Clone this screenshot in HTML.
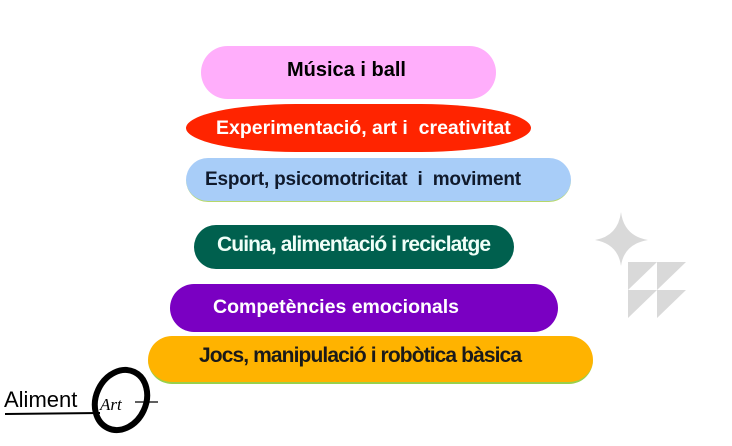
<!DOCTYPE html>
<html><head><meta charset="utf-8"><style>
html,body{margin:0;padding:0;background:#fff;width:732px;height:446px;overflow:hidden;position:relative;font-family:"Liberation Sans",Arial,sans-serif}
.p{position:absolute;display:flex;align-items:center;font-weight:bold;font-size:19.5px;white-space:nowrap;box-sizing:border-box}
.c{letter-spacing:-0.9px;font-size:21px}
</style></head><body>
<div class="p" style="left:201px;top:46px;width:295px;height:53px;background:#ffaefb;color:#000;border-radius:27px;padding-left:86px;padding-bottom:5px;font-size:20px">Música i ball</div>
<div class="p" style="left:186px;top:104px;width:345px;height:48px;background:#ff2400;color:#fff;border-radius:110px/24px;padding-left:30px">Experimentació, art i&nbsp; creativitat</div>
<div class="p" style="left:186px;top:158px;width:385px;height:44px;background:#a8cdf8;color:#101a2c;border-radius:22px;border-bottom:1px solid #b6d86a;padding-left:19px;font-size:19px;letter-spacing:-0.2px">Esport, psicomotricitat&nbsp; i&nbsp; moviment</div>
<div class="p c" style="left:194px;top:225px;width:320px;height:44px;background:#00604e;color:#f0fff8;border-radius:22px;padding-left:23px;padding-bottom:4px">Cuina, alimentació i reciclatge</div>
<div class="p" style="left:170px;top:284px;width:388px;height:48px;background:#7a00c2;color:#fff;border-radius:24px;padding-left:43px;padding-bottom:2px">Competències emocionals</div>
<div class="p c" style="left:148px;top:336px;width:445px;height:48px;background:#ffb300;color:#1a1a1a;border-radius:24px;border-bottom:2px solid #9ad04a;padding-left:51px;padding-bottom:6px">Jocs, manipulació i robòtica bàsica</div>
<svg style="position:absolute;left:0;top:0" width="732" height="446">
<path d="M621 212 Q624 236 648 240 Q624 244 621 266 Q618 244 595 240 Q618 236 621 212Z" fill="#d9d9d9"/>
<polygon points="628,262 657,262 628,290" fill="#d9d9d9"/>
<polygon points="657,262 686,262 657,290" fill="#d9d9d9"/>
<polygon points="628,290 657,290 628,318" fill="#d9d9d9"/>
<polygon points="657,290 686,290 657,318" fill="#d9d9d9"/>
<ellipse cx="121" cy="400" rx="25" ry="31" fill="none" stroke="#000" stroke-width="6" transform="rotate(25 121 400)"/>
<line x1="5" y1="414" x2="100" y2="413" stroke="#000" stroke-width="2"/>
<line x1="135" y1="402" x2="158" y2="402" stroke="#000" stroke-width="1.2"/>
<text x="100" y="410" font-family="Liberation Serif,serif" font-style="italic" font-size="17" fill="#000">Art</text>
<text x="4" y="407" font-family="Liberation Sans,sans-serif" font-size="22" fill="#000">Aliment</text>
</svg>
</body></html>
